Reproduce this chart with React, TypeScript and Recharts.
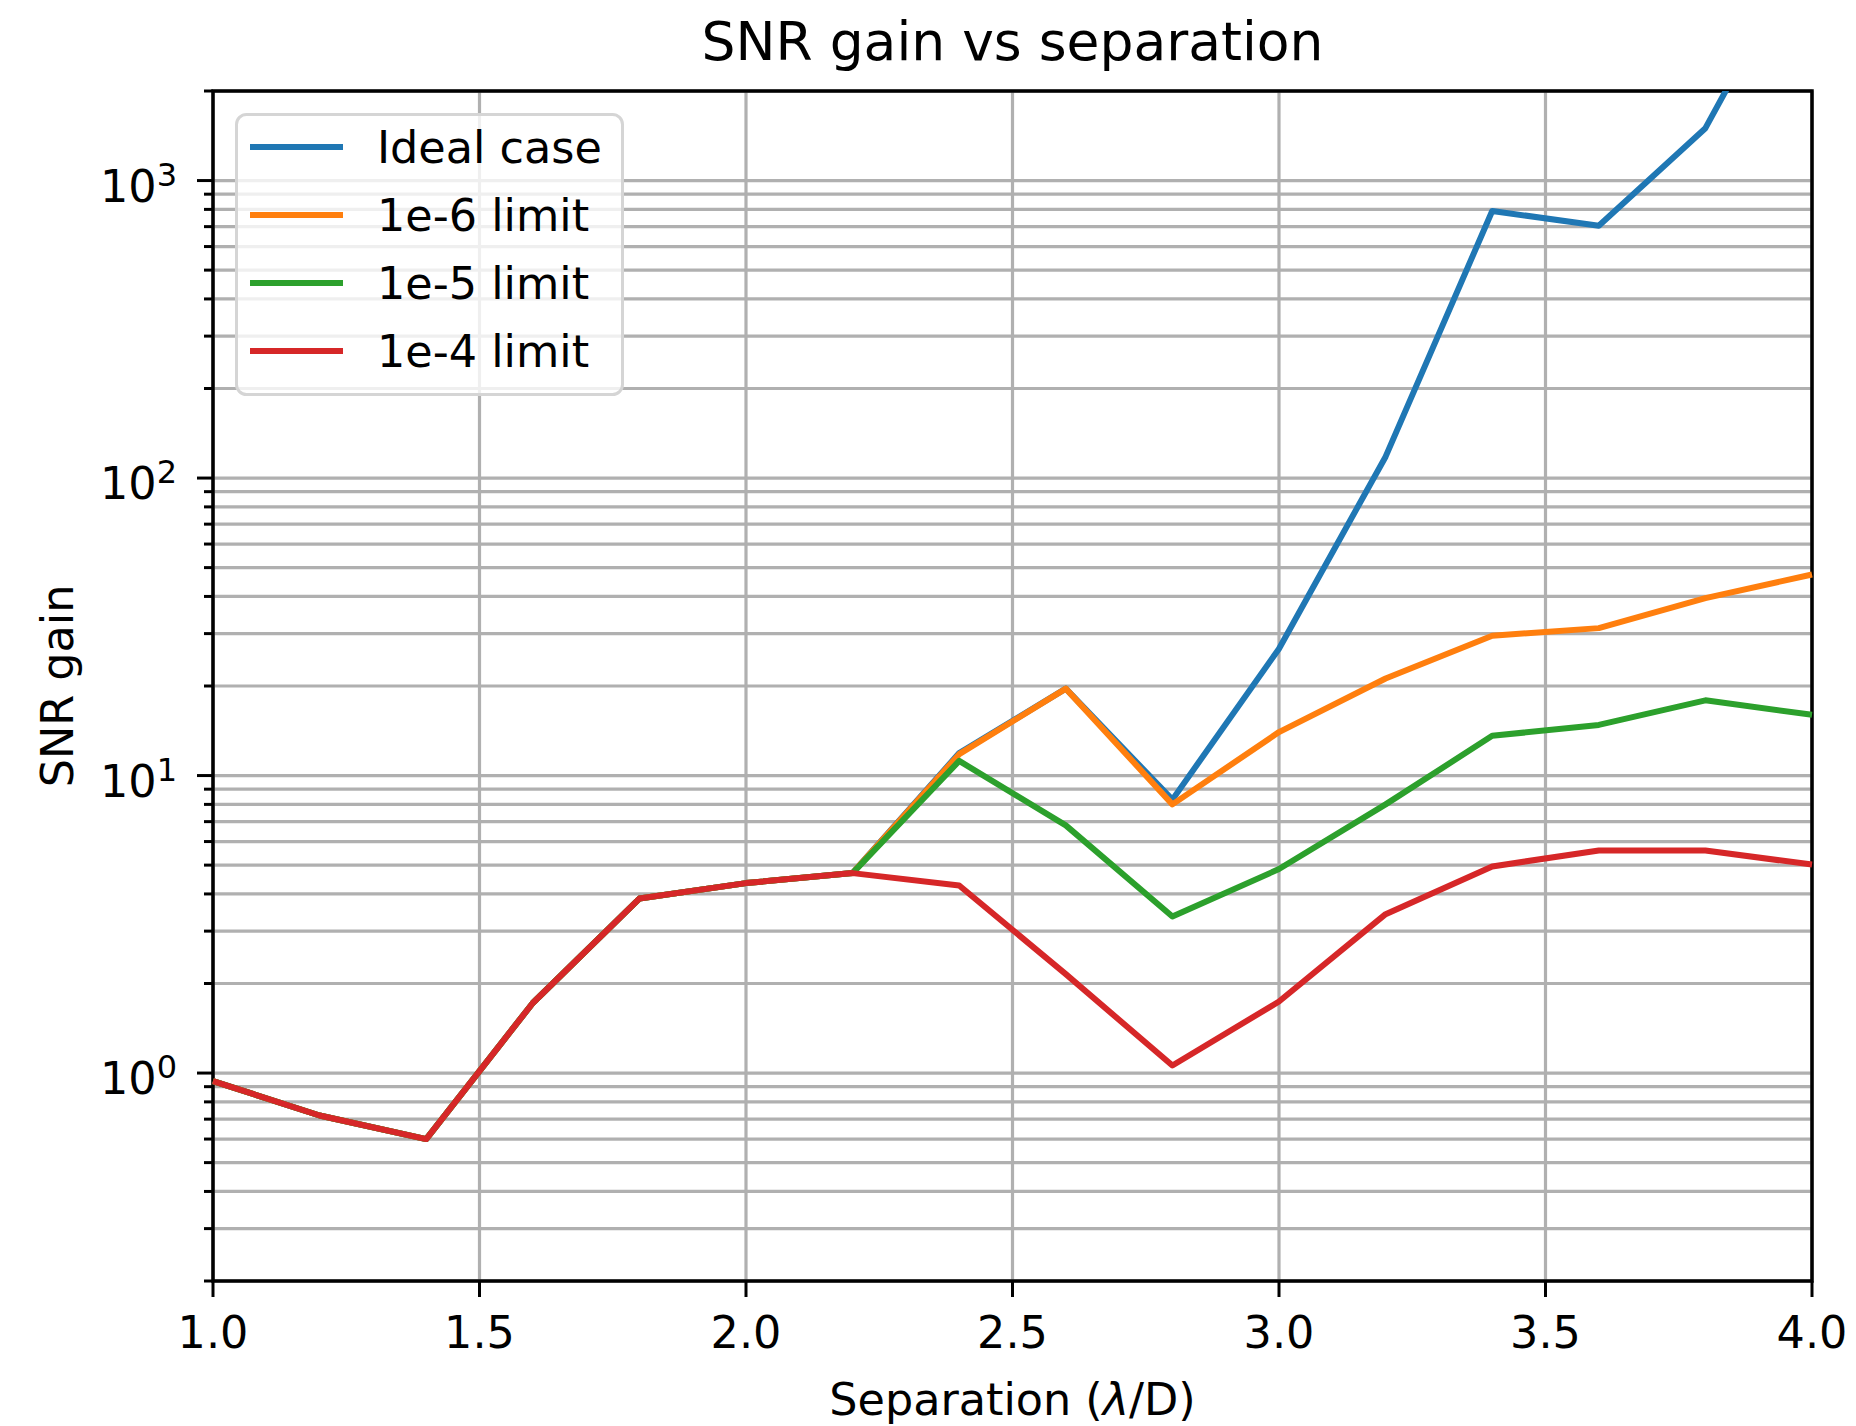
import React from 'react'
import { LineChart, Line, XAxis, YAxis, CartesianGrid, Legend, ReferenceArea } from 'recharts'

// separation in lambda/D
const SEPARATION = [1.0, 1.2, 1.4, 1.6, 1.8, 2.0, 2.2, 2.4, 2.6, 2.8, 3.0, 3.2, 3.4, 3.6, 3.8, 4.0]
const IDEAL = [0.94, 0.72, 0.6, 1.72, 3.86, 4.35, 4.7, 11.9, 19.6, 8.3, 26.7, 118, 790, 705, 1500, 6800]
const LIMIT_1E6 = [0.94, 0.72, 0.6, 1.72, 3.86, 4.35, 4.7, 11.8, 19.6, 8.0, 14.0, 21.2, 29.5, 31.3, 39.5, 47.4]
const LIMIT_1E5 = [0.94, 0.72, 0.6, 1.72, 3.86, 4.35, 4.7, 11.2, 6.8, 3.36, 4.85, 8.0, 13.6, 14.8, 17.9, 16.0]
const LIMIT_1E4 = [0.94, 0.72, 0.6, 1.72, 3.86, 4.35, 4.7, 4.27, 2.15, 1.06, 1.74, 3.42, 4.95, 5.6, 5.6, 5.02]

const X_TICKS = [1.0, 1.5, 2.0, 2.5, 3.0, 3.5, 4.0]
const Y_TICKS = [
  0.2, 0.3, 0.4, 0.5, 0.6, 0.7, 0.8, 0.9,
  1, 2, 3, 4, 5, 6, 7, 8, 9,
  10, 20, 30, 40, 50, 60, 70, 80, 90,
  100, 200, 300, 400, 500, 600, 700, 800, 900,
  1000, 2000,
]
const Y_MAJOR: Record<string, string> = { '1': '0', '10': '1', '100': '2', '1000': '3' }

const SERIES = [
  { key: 'ideal', name: 'Ideal case', color: '#1f77b4' },
  { key: 'lim6', name: '1e-6 limit', color: '#ff7f0e' },
  { key: 'lim5', name: '1e-5 limit', color: '#2ca02c' },
  { key: 'lim4', name: '1e-4 limit', color: '#d62728' },
]

const data = SEPARATION.map((s, i) => ({
  sep: s,
  ideal: IDEAL[i],
  lim6: LIMIT_1E6[i],
  lim5: LIMIT_1E5[i],
  lim4: LIMIT_1E4[i],
}))

const FONT = 'DejaVu Sans, Verdana, sans-serif'

function YTick(props: any) {
  const { x, y, payload } = props
  const exp = Y_MAJOR[String(payload.value)]
  const major = exp !== undefined
  return (
    <g>
      <line x1={x - (major ? 16 : 9)} x2={x} y1={y} y2={y} stroke="#000" strokeWidth={3} />
      {major && (
        <text x={x - 36} y={y + 21} textAnchor="end" fontSize={44.5} fill="#000" fontFamily={FONT}>
          10<tspan fontSize={32} dy={-16}>{exp}</tspan>
        </text>
      )}
    </g>
  )
}

function XTick(props: any) {
  const { x, y, payload } = props
  return (
    <g>
      <line x1={x} x2={x} y1={y} y2={y + 16} stroke="#000" strokeWidth={3} />
      <text x={x} y={y + 67} textAnchor="middle" fontSize={44.5} fill="#000" fontFamily={FONT}>
        {Number(payload.value).toFixed(1)}
      </text>
    </g>
  )
}

function XLabel(props: any) {
  const vb = props.viewBox
  return (
    <text x={vb.x + vb.width / 2} y={vb.y + vb.height - 11} textAnchor="middle" fontSize={44.5} fill="#000" fontFamily={FONT}>
      Separation (<tspan fontStyle="italic">λ</tspan>/D)
    </text>
  )
}

function LegendBox(props: any) {
  const items = [...(props.payload || [])].sort(
    (a: any, b: any) => SERIES.findIndex(s => s.name === a.value) - SERIES.findIndex(s => s.name === b.value)
  )
  return (
    <svg width={390} height={284}>
      <rect x={1.5} y={1.5} width={386} height={280} rx={10} fill="#fff" fillOpacity={0.8} stroke="#d5d5d5" strokeWidth={3} />
      {items.map((it: any, i: number) => {
        const cy = 34 + i * 68
        return (
          <g key={it.value}>
            <line x1={15} x2={108} y1={cy} y2={cy} stroke={it.color} strokeWidth={6} />
            <text x={142} y={cy + 16} fontSize={44.5} fill="#000" fontFamily={FONT}>{it.value}</text>
          </g>
        )
      })}
    </svg>
  )
}

export default function App() {
  return (
    <div style={{ position: 'absolute', left: 0, top: 0, width: 1856, height: 1426, background: '#fff', fontFamily: FONT }}>
      <div style={{ position: 'absolute', left: 213, top: 15, width: 1599, textAlign: 'center', fontSize: 53.5, lineHeight: 1, color: '#000' }}>
        SNR gain vs separation
      </div>
      <LineChart width={1856} height={1426} data={data} margin={{ top: 91, right: 44, bottom: 0, left: 0 }}>
        <CartesianGrid stroke="#b0b0b0" strokeWidth={3.2} />
        <XAxis
          dataKey="sep"
          type="number"
          domain={[1, 4]}
          ticks={X_TICKS}
          interval={0}
          height={145}
          axisLine={false}
          tickLine={false}
          tickSize={0}
          tickMargin={0}
          tick={<XTick />}
          label={<XLabel />}
        />
        <YAxis
          type="number"
          scale="log"
          domain={[0.2, 2000]}
          allowDataOverflow={true}
          ticks={Y_TICKS}
          interval={0}
          width={213}
          axisLine={false}
          tickLine={false}
          tickSize={0}
          tickMargin={0}
          tick={<YTick />}
          label={{ value: 'SNR gain', angle: -90, position: 'insideLeft', offset: 57, fontSize: 44.5, fill: '#000', fontFamily: FONT, style: { textAnchor: 'middle' } }}
        />
        {SERIES.map(s => (
          <Line
            key={s.key}
            dataKey={s.key}
            name={s.name}
            stroke={s.color}
            strokeWidth={6}
            strokeLinejoin="round"
            dot={false}
            activeDot={false}
            isAnimationActive={false}
          />
        ))}
        <ReferenceArea x1={1} x2={4} y1={0.2} y2={2000} fill="none" stroke="#000" strokeWidth={3.5} ifOverflow="visible" />
        <Legend
          layout="vertical"
          align="center"
          verticalAlign="middle"
          content={<LegendBox />}
          wrapperStyle={{ left: 235, top: 113, width: 390, height: 284 }}
        />
      </LineChart>
    </div>
  )
}
